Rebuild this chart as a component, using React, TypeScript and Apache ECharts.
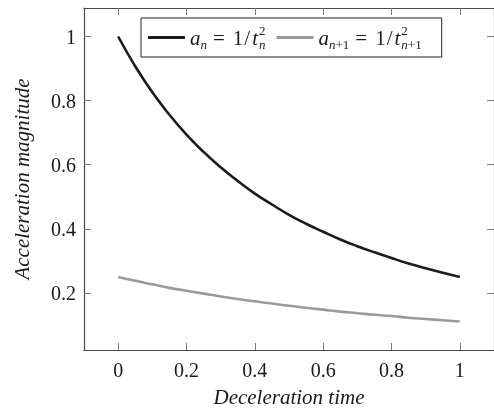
import React, { useEffect, useRef } from "react";
import * as echarts from "echarts";

const tValues = [0, 0.05, 0.1, 0.15, 0.2, 0.25, 0.3, 0.35, 0.4, 0.45, 0.5, 0.55, 0.6, 0.65, 0.7, 0.75, 0.8, 0.85, 0.9, 0.95, 1];
const aN = [1, 0.907, 0.826, 0.756, 0.694, 0.64, 0.592, 0.549, 0.51, 0.476, 0.444, 0.416, 0.391, 0.367, 0.346, 0.327, 0.309, 0.292, 0.277, 0.263, 0.25];
const aN1 = [0.25, 0.238, 0.227, 0.216, 0.207, 0.198, 0.189, 0.181, 0.174, 0.167, 0.16, 0.154, 0.148, 0.142, 0.137, 0.132, 0.128, 0.123, 0.119, 0.115, 0.111];
const xTicks = [0, 0.2, 0.4, 0.6, 0.8, 1];
const yTicks = [0.2, 0.4, 0.6, 0.8, 1];
const seriesNames = ["an", "an1"];

const FONT = "Liberation Serif, Times New Roman, serif";
const AXIS_COLOR = "#4a4a4a";
const TICK_COLOR = "#7a7a7a";
const TEXT_COLOR = "#1a1a1a";

export default function App() {
  const ref = useRef<HTMLDivElement>(null);
  useEffect(() => {
    if (!ref.current) return;
    const chart = echarts.init(ref.current, null, { renderer: "svg" });
    const xBase = {
      type: "value",
      min: -0.1,
      max: 1.1,
      splitLine: { show: false },
      axisLine: { show: true, onZero: false, lineStyle: { color: AXIS_COLOR, width: 1.2 } },
      axisTick: { show: true, inside: true, length: 7, customValues: xTicks, lineStyle: { color: TICK_COLOR } },
    };
    const yBase = {
      type: "value",
      min: 0.0222,
      max: 1.0889,
      splitLine: { show: false },
      axisLine: { show: true, onZero: false, lineStyle: { color: AXIS_COLOR, width: 1.2 } },
      axisTick: { show: true, inside: true, length: 7, customValues: yTicks, lineStyle: { color: TICK_COLOR } },
    };
    const rich = {
      it: { fontFamily: FONT, fontStyle: "italic", fontSize: 21, color: TEXT_COLOR },
      rm: { fontFamily: FONT, fontSize: 21, color: TEXT_COLOR },
      sl: { fontFamily: FONT, fontSize: 21, color: TEXT_COLOR, padding: [0, 2, 0, 1] },
      eq: { fontFamily: FONT, fontSize: 21, color: TEXT_COLOR, padding: [0, 8, 0, 6] },
      sb: { fontFamily: FONT, fontStyle: "italic", fontSize: 13, color: TEXT_COLOR, padding: [14, 0, 0, 0] },
      sbr: { fontFamily: FONT, fontSize: 13, color: TEXT_COLOR, padding: [14, 0, 0, 0] },
      sp: { fontFamily: FONT, fontSize: 13, color: TEXT_COLOR, padding: [0, 0, 14, 1], width: 0.01 },
    };
    chart.setOption({
      animation: false,
      grid: { left: 84, right: -4, top: 8, bottom: 60.5 },
      xAxis: [
        {
          ...xBase,
          position: "bottom",
          name: "Deceleration time",
          nameLocation: "middle",
          nameGap: 36,
          nameTextStyle: { fontFamily: FONT, fontStyle: "italic", fontSize: 21, color: TEXT_COLOR },
          axisLabel: { show: true, customValues: xTicks, margin: 10, fontFamily: FONT, fontSize: 20, color: TEXT_COLOR },
        },
        { ...xBase, position: "top", axisLabel: { show: false } },
      ],
      yAxis: [
        {
          ...yBase,
          position: "left",
          name: "Acceleration magnitude",
          nameLocation: "middle",
          nameGap: 52,
          nameTextStyle: { fontFamily: FONT, fontStyle: "italic", fontSize: 21, color: TEXT_COLOR },
          axisLabel: { show: true, customValues: yTicks, margin: 8, fontFamily: FONT, fontSize: 20, color: TEXT_COLOR },
        },
        { ...yBase, position: "right", axisLabel: { show: false } },
      ],
      legend: {
        left: 141,
        top: 18,
        orient: "horizontal",
        backgroundColor: "#fff",
        borderColor: "#222",
        borderWidth: 1,
        padding: [6, 20, 6, 7],
        itemGap: 11,
        itemWidth: 37,
        itemHeight: 3,
        icon: "rect",
        data: seriesNames,
        formatter: (name: string) =>
          name === "an"
            ? "{it|a}{sb|n}{eq|=}{rm|1}{sl|/}{it|t}{sp|2}{sb|n}"
            : "{it|a}{sb|n}{sbr|+1}{eq|=}{rm|1}{sl|/}{it|t}{sp|2}{sb|n}{sbr|+1}",
        textStyle: { rich },
      },
      series: [
        {
          name: seriesNames[0],
          type: "line",
          data: tValues.map((t, i) => [t, aN[i]]),
          showSymbol: false,
          smooth: true,
          lineStyle: { color: "#1c1a1b", width: 2.6 },
          itemStyle: { color: "#1c1a1b" },
        },
        {
          name: seriesNames[1],
          type: "line",
          data: tValues.map((t, i) => [t, aN1[i]]),
          showSymbol: false,
          smooth: true,
          lineStyle: { color: "#9a9a9a", width: 2.6 },
          itemStyle: { color: "#9a9a9a" },
        },
      ],
    });
    return () => chart.dispose();
  }, []);
  return <div ref={ref} style={{ position: "fixed", left: 0, top: 0, width: 494, height: 412 }} />;
}
